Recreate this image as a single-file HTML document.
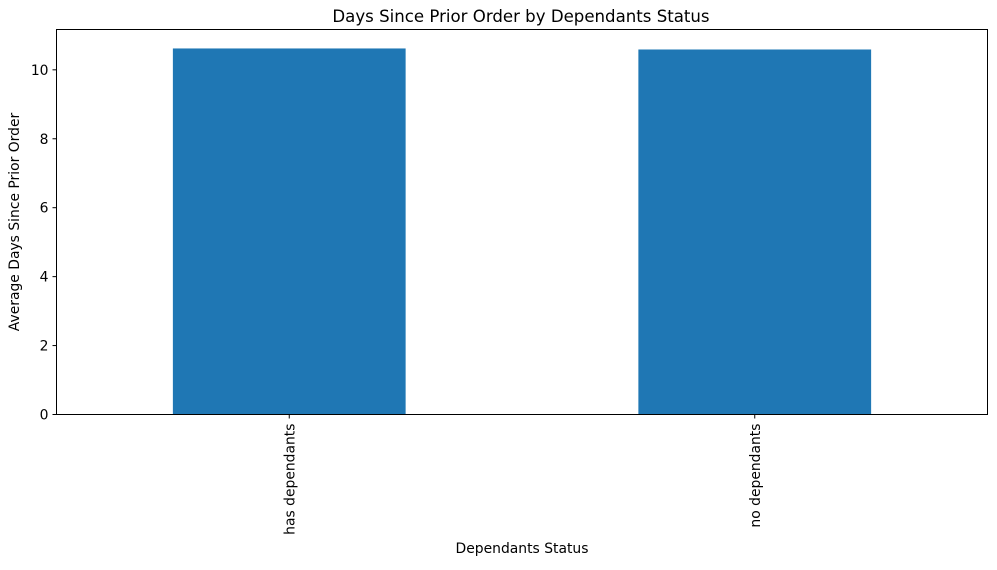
<!DOCTYPE html>
<html><head><meta charset="utf-8"><style>
body{margin:0;background:#fff;font-family:"Liberation Sans","DejaVu Sans",sans-serif}
svg text{font-family:"DejaVu Sans","Liberation Sans",sans-serif;fill:#000}
</style></head><body>
<svg id="chart" width="997" height="565">
<text x="521" y="22" font-size="16.6" text-anchor="middle">Days Since Prior Order by Dependants Status</text>
<g id="bars"></g>
<g id="yticks"></g>
<g id="xticks"></g>
<rect x="56.5" y="29.5" width="931" height="385" fill="none" stroke="#000" stroke-width="1"/>
<text x="19" y="222" font-size="13.9" text-anchor="middle" transform="rotate(-90 19 222)">Average Days Since Prior Order</text>
<text x="522" y="553" font-size="13.9" text-anchor="middle">Dependants Status</text>
</svg>
<script>
const categories = ["has dependants", "no dependants"];
const values = [10.62, 10.59];
const yTicks = [0, 2, 4, 6, 8, 10];
const yMax = 11.17;
const L=56.5, R=987.5, T=29.5, B=414.5;
const ns="http://www.w3.org/2000/svg";
function y(v){return B-(v/yMax)*(B-T);}
const band=(R-L)/categories.length;
function xc(i){return L+band*(i+0.5);}
const bw=band*0.5;
const gb=document.getElementById('bars'), gy=document.getElementById('yticks'), gx=document.getElementById('xticks');
function mk(t,a){const e=document.createElementNS(ns,t);for(const k in a)e.setAttribute(k,a[k]);return e;}
categories.forEach((c,i)=>{
  const r=mk('rect',{x:xc(i)-bw/2,y:y(values[i]),width:bw,height:B-y(values[i]),fill:'#1f77b4'});
  
  
  gb.appendChild(r);
  const tk=mk('line',{x1:xc(i),x2:xc(i),y1:B,y2:B+4,stroke:'#000'});
  
  
  gx.appendChild(tk);
  const tx=mk('text',{x:xc(i)+5,y:B+9,'font-size':13.9,'text-anchor':'end',transform:`rotate(-90 ${xc(i)+5} ${B+9})`});
  tx.textContent=c;
  
  
  gx.appendChild(tx);
});
yTicks.forEach(v=>{
  const tk=mk('line',{x1:L-4,x2:L,y1:y(v),y2:y(v),stroke:'#000'});
  
  
  gy.appendChild(tk);
  const tx=mk('text',{x:L-8,y:y(v)+5,'font-size':13.9,'text-anchor':'end'});
  tx.textContent=v;
  
  
  gy.appendChild(tx);
});
</script>
</body></html>
